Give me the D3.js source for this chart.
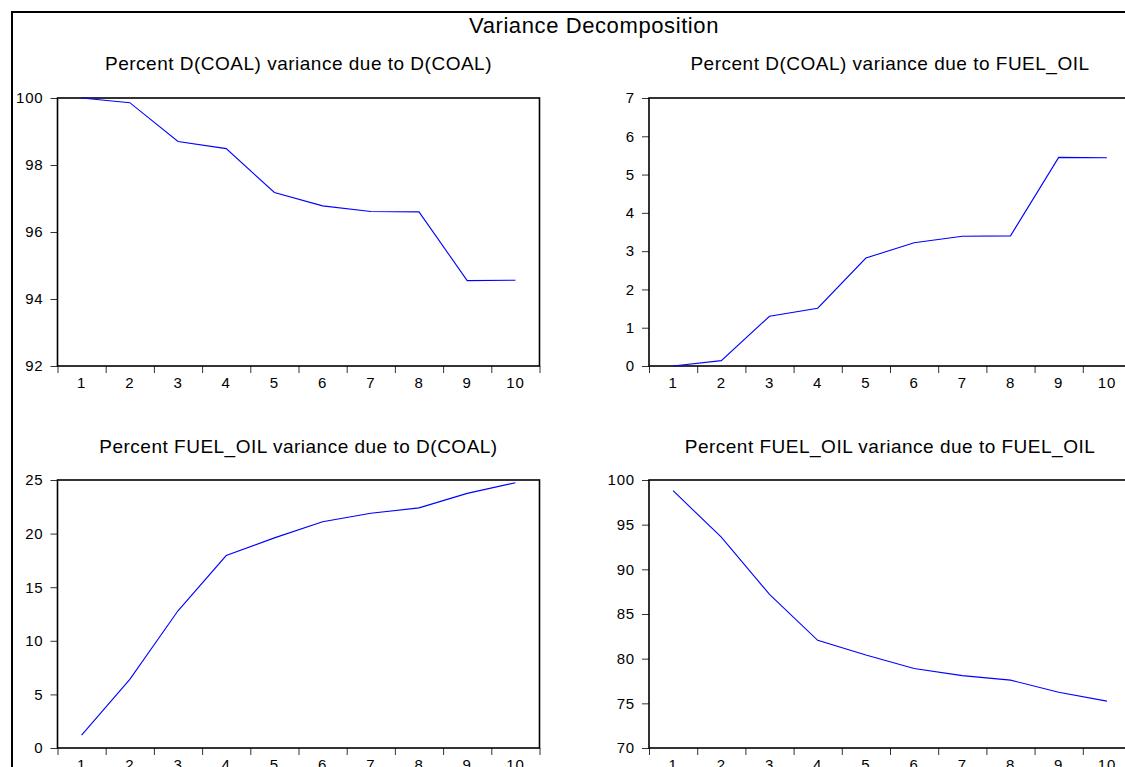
<!DOCTYPE html>
<html>
<head>
<meta charset="utf-8">
<script src="https://cdn.jsdelivr.net/npm/d3@7"></script>
<style>
  html, body { margin: 0; padding: 0; background: #fff; }
  svg { display: block; font-family: "Liberation Sans", Arial, sans-serif; }
</style>
</head>
<body>
<svg id="chart" width="1125" height="767"></svg>
<script>
// ---- data ----
const chartTitle = "Variance Decomposition";
const periods = [1, 2, 3, 4, 5, 6, 7, 8, 9, 10];
const panelTitles = [
  "Percent D(COAL) variance due to D(COAL)",
  "Percent D(COAL) variance due to FUEL_OIL",
  "Percent FUEL_OIL variance due to D(COAL)",
  "Percent FUEL_OIL variance due to FUEL_OIL"
];
const coalDueCoal = [100, 99.86, 98.70, 98.49, 97.18, 96.78, 96.61, 96.60, 94.55, 94.56];
const coalDueFuel = [0, 0.14, 1.30, 1.51, 2.82, 3.22, 3.39, 3.40, 5.45, 5.44];
const fuelDueCoal = [1.2, 6.4, 12.8, 17.95, 19.6, 21.1, 21.9, 22.4, 23.75, 24.75];
const fuelDueFuel = [98.8, 93.6, 87.2, 82.05, 80.4, 78.9, 78.1, 77.6, 76.25, 75.25];
const yTicks1 = [92, 94, 96, 98, 100];
const yTicks2 = [0, 1, 2, 3, 4, 5, 6, 7];
const yTicks3 = [0, 5, 10, 15, 20, 25];
const yTicks4 = [70, 75, 80, 85, 90, 95, 100];

// ---- layout ----
const svg = d3.select("#chart");
svg.append("rect").attr("x", 12).attr("y", 12).attr("width", 1164).attr("height", 900)
  .attr("fill", "none").attr("stroke", "#000").attr("stroke-width", 2);

svg.append("text").attr("x", 594).attr("y", 33).attr("text-anchor", "middle")
  .attr("font-size", 22).attr("letter-spacing", 0.6).attr("fill", "#000").text(chartTitle);

const pw = 482, ph = 268;
const panels = [
  { title: panelTitles[0], values: coalDueCoal, ticks: yTicks1, x: 57.5, y: 98, ty: 70 },
  { title: panelTitles[1], values: coalDueFuel, ticks: yTicks2, x: 649, y: 98, ty: 70 },
  { title: panelTitles[2], values: fuelDueCoal, ticks: yTicks3, x: 57.5, y: 480, ty: 453 },
  { title: panelTitles[3], values: fuelDueFuel, ticks: yTicks4, x: 649, y: 480, ty: 453 }
];

panels.forEach(p => {
  const g = svg.append("g").attr("transform", `translate(${p.x},${p.y})`);
  const x = d3.scaleBand().domain(periods).range([0, pw]).padding(0);
  const xb = d3.scaleLinear().domain([0.5, 10.5]).range([0, pw]);
  const y = d3.scaleLinear().domain(d3.extent(p.ticks)).range([ph, 0]);

  g.append("text").attr("x", pw / 2).attr("y", p.ty - p.y).attr("text-anchor", "middle")
    .attr("font-size", 19).attr("letter-spacing", 0.5).attr("fill", "#000").text(p.title);

  // y axis
  const ya = g.append("g").call(d3.axisLeft(y).tickValues(p.ticks).tickFormat(d3.format("d"))
    .tickSize(7).tickSizeOuter(0).tickPadding(7));
  ya.select(".domain").remove();
  ya.selectAll("line").attr("stroke", "#333");
  ya.selectAll("text").attr("font-size", 15).attr("letter-spacing", 0.8)
    .attr("font-family", "Liberation Sans, Arial").attr("fill", "#000");

  // x boundary ticks
  const xt = g.append("g").attr("transform", `translate(0,${ph})`)
    .call(d3.axisBottom(xb).tickValues(d3.range(0.5, 11, 1)).tickSize(7).tickSizeOuter(0).tickFormat(""));
  xt.select(".domain").remove();
  xt.selectAll("line").attr("stroke", "#333");
  // x labels
  const xl = g.append("g").attr("transform", `translate(0,${ph})`)
    .call(d3.axisBottom(x).tickSize(0).tickPadding(11));
  xl.select(".domain").remove();
  xl.selectAll("text").attr("font-size", 15).attr("letter-spacing", 0.8)
    .attr("font-family", "Liberation Sans, Arial").attr("fill", "#000");

  // frame
  g.append("rect").attr("x", 0).attr("y", 0).attr("width", pw).attr("height", ph)
    .attr("fill", "none").attr("stroke", "#000").attr("stroke-width", 1.6);

  // line
  const line = d3.line().x((d, i) => x(periods[i]) + x.bandwidth() / 2).y(d => y(d));
  g.append("path").datum(p.values).attr("d", line)
    .attr("fill", "none").attr("stroke", "#0000ff").attr("stroke-width", 1.1);
});
</script>
</body>
</html>
